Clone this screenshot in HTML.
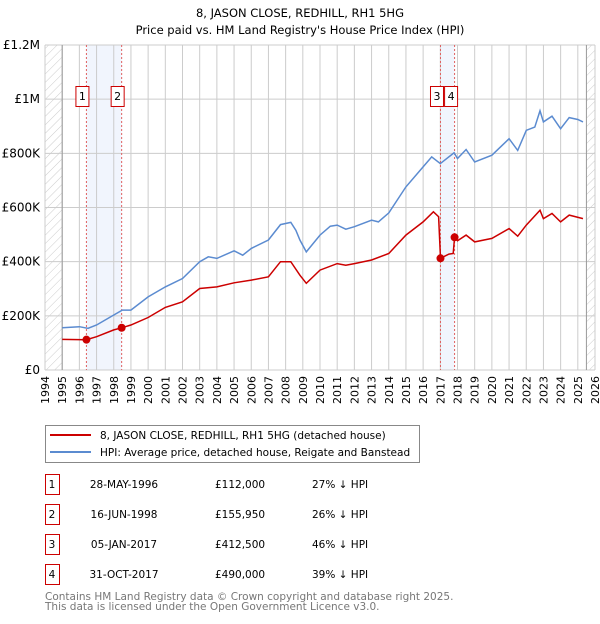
<!DOCTYPE html>
<html><head><meta charset="utf-8"><style>
body{margin:0;background:#fff;font-family:"DejaVu Sans","Liberation Sans",sans-serif;}
svg text{font-family:"DejaVu Sans","Liberation Sans",sans-serif;}
</style></head><body>
<svg id="c" width="600" height="620" xmlns="http://www.w3.org/2000/svg">
<defs><pattern id="hatch" width="6" height="6" patternUnits="userSpaceOnUse" patternTransform="rotate(45)"><line x1="0" y1="0" x2="0" y2="6" stroke="#ccc" stroke-width="1"/></pattern></defs>
<text x="300" y="17" text-anchor="middle" font-size="11.5">8, JASON CLOSE, REDHILL, RH1 5HG</text>
<text x="300" y="34" text-anchor="middle" font-size="11.5">Price paid vs. HM Land Registry's House Price Index (HPI)</text>
<g id="plot"></g>
<g>
<rect x="45.5" y="425.5" width="374" height="37" fill="#fff" stroke="#888"/>
<line x1="50" y1="435" x2="91" y2="435" stroke="#cc0000" stroke-width="2"/>
<text x="100" y="439" font-size="10.5">8, JASON CLOSE, REDHILL, RH1 5HG (detached house)</text>
<line x1="50" y1="452" x2="91" y2="452" stroke="#5b8bd0" stroke-width="2"/>
<text x="100" y="456" font-size="10.5">HPI: Average price, detached house, Reigate and Banstead</text>
</g>
<g id="table"></g>
<text x="45" y="600" font-size="10.5" fill="#777">Contains HM Land Registry data © Crown copyright and database right 2025.</text>
<text x="45" y="610" font-size="10.5" fill="#777">This data is licensed under the Open Government Licence v3.0.</text>
</svg>
<script>
const hpiYears=[1995,1996,1996.5,1997,1998,1998.5,1999,2000,2001,2002,2003,2003.5,2004,2005,2005.5,2006,2007,2007.7,2008.3,2008.6,2008.83,2009.2,2010,2010.6,2011,2011.5,2012,2013,2013.4,2014,2015,2016,2016.5,2017,2017.8,2018,2018.5,2019,2020,2021,2021.5,2022,2022.5,2022.8,2023,2023.5,2024,2024.5,2025,2025.3];
const hpiValues=[156,160,154,166,203,221,221,270,307,338,400,418,412,440,424,449,480,537,545,516,480,436,498,531,535,520,529,553,547,580,676,750,787,762,802,781,814,768,793,854,811,885,897,957,916,937,891,932,925,916];
const propYears=[1995,1996.4,1997,1998,1998.46,1999,2000,2001,2002,2003,2004,2005,2006,2007,2007.7,2008.3,2008.83,2009.2,2010,2011,2011.5,2012,2013,2014,2015,2016,2016.6,2016.9,2017.01,2017.5,2017.75,2017.83,2018,2018.5,2019,2020,2021,2021.5,2022,2022.8,2023,2023.5,2024,2024.5,2025.3];
const propValues=[113,112,123,148,156,166,194,231,252,301,307,322,332,344,400,400,350,320,369,393,387,393,406,430,498,547,584,566,412.5,428,430,490,477,498,473,486,522,494,535,590,559,578,547,572,559];
const saleLabels=["1","2","3","4"];
const saleYears=[1996.41,1998.46,2017.01,2017.83];
const saleValues=[112,155.95,412.5,490];
const saleDates=["28-MAY-1996","16-JUN-1998","05-JAN-2017","31-OCT-2017"];
const salePrices=["£112,000","£155,950","£412,500","£490,000"];
const saleDiffs=["27% ↓ HPI","26% ↓ HPI","46% ↓ HPI","39% ↓ HPI"];
const yTicks=[0,200,400,600,800,1000,1200];
const yTickLabels=["£0","£200K","£400K","£600K","£800K","£1M","£1.2M"];
const NS="http://www.w3.org/2000/svg";
const X0=45,X1=595,Y0=370,Y1=45;
const x=y=>X0+(y-1994)/32*(X1-X0);
const yv=v=>Y0-v/1200*(Y0-Y1);
function mk(t,a,p){const e=document.createElementNS(NS,t);for(const k in a)e.setAttribute(k,a[k]);(p||g).appendChild(e);return e;}
const g=document.getElementById('plot');
let e;
e=mk('rect',{x:X0,y:Y1,width:x(1995)-X0,height:Y0-Y1,fill:'url(#hatch)'});


e=mk('rect',{x:x(2025.5),y:Y1,width:X1-x(2025.5),height:Y0-Y1,fill:'url(#hatch)'});


for(const [a,b] of [[saleYears[0],saleYears[1]],[saleYears[2],saleYears[3]]]){
e=mk('rect',{x:x(a),y:Y1,width:x(b)-x(a),height:Y0-Y1,fill:'#eef3fc',opacity:0.8});


}
for(let yr=1994;yr<=2026;yr++){
e=mk('line',{x1:x(yr),x2:x(yr),y1:Y1,y2:Y0,stroke:'#ccc','stroke-width':1});


e=mk('text',{x:0,y:0,'font-size':11,'text-anchor':'end',transform:`translate(${x(yr)+4},${Y0+6}) rotate(-90)`});
e.textContent=yr;


}
yTicks.forEach((t,i)=>{
e=mk('line',{x1:X0,x2:X1,y1:yv(t),y2:yv(t),stroke:'#ccc','stroke-width':1});


e=mk('text',{x:40,y:yv(t)+4,'font-size':12,'text-anchor':'end'});
e.textContent=yTickLabels[i];


});
e=mk('line',{x1:x(1995),x2:x(1995),y1:Y1,y2:Y0,stroke:'#999'});


e=mk('line',{x1:x(2025.5),x2:x(2025.5),y1:Y1,y2:Y0,stroke:'#999'});


saleYears.forEach(s=>{
e=mk('line',{x1:x(s),x2:x(s),y1:Y1,y2:Y0,stroke:'#e06060','stroke-dasharray':'2,2'});


});
const pts=(xs,vs)=>xs.map((a,i)=>x(a).toFixed(1)+','+yv(vs[i]).toFixed(1)).join(' ');
e=mk('polyline',{points:pts(hpiYears,hpiValues),fill:'none',stroke:'#5b8bd0','stroke-width':1.5});


e=mk('polyline',{points:pts(propYears,propValues),fill:'none',stroke:'#cc0000','stroke-width':1.5});


saleYears.forEach((s,i)=>{
e=mk('circle',{cx:x(s),cy:yv(saleValues[i]),r:4,fill:'#cc0000'});


});
const lx=[x(saleYears[0])-4,x(saleYears[1])-4,x(saleYears[2])-3.5,x(saleYears[3])-3.5];
saleLabels.forEach((l,i)=>{
e=mk('rect',{x:lx[i]-6.5,y:86.5,width:13,height:20,fill:'#fff',stroke:'#cc0000'});


e=mk('text',{x:lx[i],y:100,'font-size':11,'text-anchor':'middle'});
e.textContent=l;


});
const tb=document.getElementById('table');
saleLabels.forEach((l,i)=>{
const cy=483+i*30;
e=mk('rect',{x:45.5,y:cy-8.5,width:14,height:20,fill:'#fff',stroke:'#cc0000'},tb);


const cells=[[52,l,'middle'],[124,saleDates[i],'middle'],[215,salePrices[i],'start'],[312,saleDiffs[i],'start']];
cells.forEach(c=>{
e=mk('text',{x:c[0],y:cy+5,'font-size':10.5,'text-anchor':c[2]},tb);
e.textContent=c[1];


});
});
</script>
</body></html>
